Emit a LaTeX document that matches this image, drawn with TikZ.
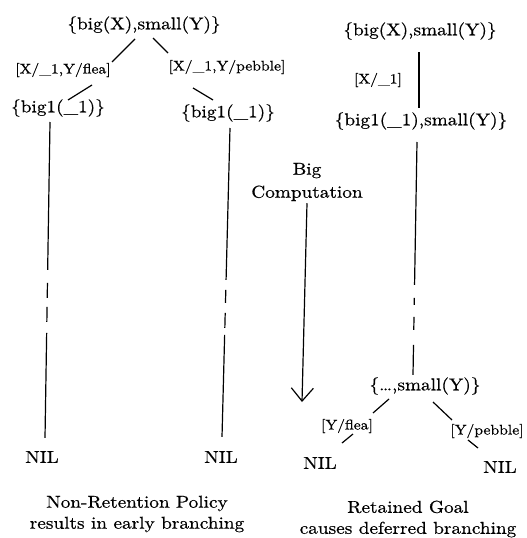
\documentclass[tikz,border=0pt]{standalone}
\usepackage{fontspec}
\setmainfont{lmroman10-regular.otf}[FakeStretch=1.12, FakeBold=0.6]
\usetikzlibrary{arrows.meta}
\begin{document}
\begin{tikzpicture}[x=1pt,y=-1pt,
  goal/.style={font=\fontsize{17.2}{20}\selectfont, inner sep=0pt},
  subst/.style={font=\fontsize{14}{16}\selectfont, inner sep=0pt},
  captxt/.style={font=\fontsize{17.2}{21}\selectfont, align=center, inner sep=0pt},
  link/.style={line width=1.2pt},
]
\useasboundingbox (0,0) rectangle (527,538);
% left tree
\node[goal] (L0) at (144,25) {\{big(X),small(Y)\}};
\node[subst] (L1) at (63,70) {[X/\_1,Y/flea]};
\node[subst] (L2) at (227,67) {[X/\_1,Y/pebble]};
\node[goal] (L3) at (58,108) {\{big1(\_1)\}};
\node[goal] (L4) at (228,113) {\{big1(\_1)\}};
\node[goal] (L5) at (42,457) {NIL};
\node[goal] (L6) at (221,457) {NIL};
\node[captxt] (LC) at (137,514) {Non-Retention Policy\\results in early branching};
\draw[link] ([shift={(-9,14)}]L0.center) -- ([shift={(49,-8)}]L1.center);
\draw[link] ([shift={(29,15)}]L1.center) -- ([shift={(10,-8)}]L3.center);
\draw[link] ([shift={(9,13)}]L0.center) -- ([shift={(-59,-14)}]L2.center);
\draw[link] ([shift={(-34,21)}]L2.center) -- ([shift={(-15,-13)}]L4.center);
\draw[link, dash pattern=on 148pt off 13pt on 15pt off 9pt on 15pt off 11pt on 105pt]
  ([shift={(-8,14)}]L3.center) -- ([shift={(3,-19)}]L5.center);
\draw[link, dash pattern=on 152pt off 10pt on 13pt off 10pt on 15pt off 7pt on 102pt]
  ([shift={(2,15)}]L4.center) -- ([shift={(1,-20)}]L6.center);
% right tree
\node[goal] (R0) at (420,31) {\{big(X),small(Y)\}};
\node[subst] (R1) at (378,80) {[X/\_1]};
\node[goal] (R2) at (421,121) {\{big1(\_1),small(Y)\}};
\node[goal] (R3) at (425,386) {\{\ldots,small(Y)\}};
\node[subst] (R4) at (347,426) {[Y/flea]};
\node[subst] (R5) at (487,431) {[Y/pebble]};
\node[goal] (R6) at (320,463) {NIL};
\node[goal] (R7) at (500,467) {NIL};
\node[captxt] (RC) at (408,519) {Retained Goal\\causes deferred branching};
\draw[link] ([shift={(-1,21)}]R0.center) -- ([shift={(-2,-13)}]R2.center);
\draw[link, dash pattern=on 143pt off 13pt on 7pt off 12pt on 13pt off 15pt on 30pt]
  ([shift={(-4,21)}]R2.center) -- ([shift={(-12,-11)}]R3.center);
\draw[link] ([shift={(-36,13)}]R3.center) -- ([shift={(26,-13)}]R4.center);
\draw[link] ([shift={(6,8)}]R4.center) -- ([shift={(22,-20)}]R6.center);
\draw[link] ([shift={(8,16)}]R3.center) -- ([shift={(-35,-11)}]R5.center);
\draw[link] ([shift={(-19,9)}]R5.center) -- ([shift={(-22,-19)}]R7.center);
% big computation
\node[captxt, font=\fontsize{17.2}{23}\selectfont] (BC) at (307,182) {Big\\Computation};
\coordinate (BE) at (302,402);
\draw[link, -{Straight Barb[length=13pt,width=22pt]}] ([shift={(0,2)}]BC.south) -- (BE);
\end{tikzpicture}
\end{document}
